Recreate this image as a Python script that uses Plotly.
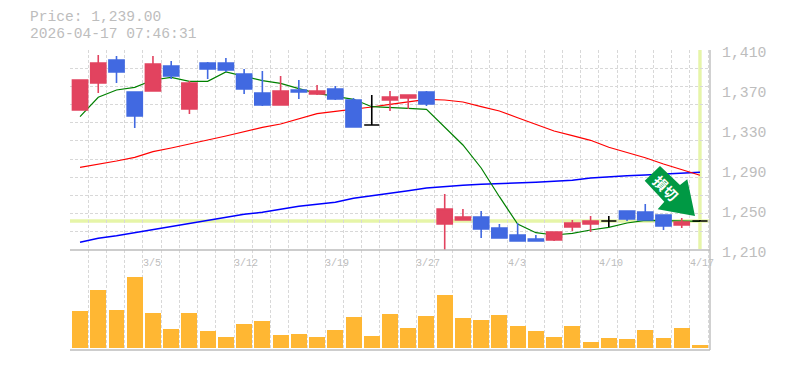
import plotly.graph_objects as go

W, H = 785, 370
L, R, T, M, B = 70, 710, 50, 250, 350

days = list(range(35))
opens = [1350,1377,1400,1368,1369,1394,1351,1397,1397,1386,1367,1355,1370,1366,1371,1360,1335,1360,1362,1368,
         1236,1240,1243,1232,1225,1221,1220,1233,1236,1239,1249,1248,1245,1235,1239]
highs = [1380,1405,1404,1368,1404,1399,1379,1398,1402,1391,1389,1384,1380,1375,1374,1362,1365,1369,1365,1369,
         1266,1251,1249,1236,1237,1225,1228,1240,1244,1244,1249,1256,1245,1242,1240]
lows = [1350,1367,1377,1332,1369,1381,1346,1381,1388,1366,1354,1355,1361,1365,1360,1333,1335,1349,1351,1354,
        1209,1240,1222,1222,1219,1219,1219,1229,1228,1233,1239,1240,1230,1232,1239]
closes = [1380,1397,1388,1344,1396,1384,1377,1391,1390,1371,1355,1369,1368,1369,1361,1333,1335,1363,1365,1356,
          1251,1243,1231,1222,1219,1219,1228,1237,1239,1239,1241,1240,1234,1238,1239]
ma_short = [1343.3,1362.7,1370,1372.7,1380,1382.7,1378.7,1378.7,1388,1384,1379.3,1376.7,1371.3,1366.7,1364,1360.7,
            1353.3,1352.7,1351.7,1350.7,1333.3,1315,1292,1263.3,1236,1227.3,1225,1226.7,1230,1232.7,1237,1239.7,
            1239.3,1238.7,1238.7]
ma_mid = [1292.7,1295.7,1299,1302.7,1308.3,1312,1315.7,1320,1324,1328.3,1332.7,1336,1341.3,1346.3,1348.7,1350.7,
          1353,1355.7,1358.3,1360.7,1360,1358,1353.3,1349,1342.3,1335.7,1329,1324.3,1319.7,1312.7,1307.3,1302.3,
          1296,1290,1284.7]
ma_long = [1217.7,1221.7,1224.3,1227.3,1230,1233,1236,1239.7,1242.7,1245.7,1247.7,1250.7,1253.7,1255.7,1257.7,
           1261.7,1264,1266.7,1269.3,1272,1273.7,1274.7,1275.7,1276.3,1276.7,1277.7,1278.7,1279.7,1282,1283.3,
           1284.3,1285,1286,1287,1287.7]
volumes = [37000,58000,38000,71000,35000,19000,35000,17000,11000,24000,27000,13000,14000,11000,18000,31000,12000,
           34000,20000,32000,53000,30000,28000,33000,22000,17000,11000,22000,6000,10000,9000,18000,10000,20000,3000]
price_ticks = [1410, 1370, 1330, 1290, 1250, 1210]
date_ticks = [(4, "3/5"), (9, "3/12"), (14, "3/19"), (19, "3/27"), (24, "4/3"), (29, "4/10"), (34, "4/17")]
last_price = 1239
header = ["Price: 1,239.00", "2026-04-17 07:46:31"]
signal_text = "損切"

GRAY = "#bdbdbd"
GRID = "#d8d8d8"
RED = "#e2435f"
BLUE = "#4169e1"
MONO = "Liberation Mono, monospace"


def px(x):
    return (x - L) / (R - L)


def py(y):
    return (B - y) / (B - T)


fig = go.Figure()
for name, color, keep in [
    ("up", RED, lambda o, c: c > o),
    ("down", BLUE, lambda o, c: c < o),
    ("flat", "#000000", lambda o, c: c == o),
]:
    idx = [i for i in days if keep(opens[i], closes[i])]
    fig.add_trace(go.Candlestick(
        x=idx,
        open=[opens[i] for i in idx],
        high=[highs[i] for i in idx],
        low=[lows[i] for i in idx],
        close=[closes[i] for i in idx],
        name=name, xaxis="x", yaxis="y3", whiskerwidth=0,
        increasing=dict(line=dict(color=color, width=1.6), fillcolor=color),
        decreasing=dict(line=dict(color=color, width=1.6), fillcolor=color),
        hoverinfo="skip",
    ))
for series, color, width in [(ma_long, "#0000ff", 1.4), (ma_mid, "#ff0000", 1.2), (ma_short, "#008000", 1.2)]:
    fig.add_trace(go.Scatter(x=days, y=series, mode="lines", line=dict(color=color, width=width),
                             xaxis="x", yaxis="y", hoverinfo="skip"))
fig.add_trace(go.Bar(x=days, y=volumes, width=0.875, marker=dict(color="#ffb733", line=dict(width=0)),
                     xaxis="x", yaxis="y2", hoverinfo="skip"))

x_range = [-0.55, 34.55]
grid = dict(showgrid=True, gridcolor=GRID, gridwidth=1, griddash="3px,2px", zeroline=False,
            showticklabels=False, ticks="", showline=False)

annotations = []
for i, text in enumerate(header):
    annotations.append(dict(x=px(29), y=py(17 + 16.6 * i), xref="paper", yref="paper", text=text, showarrow=False,
                            xanchor="left", yanchor="middle", height=13, borderpad=0,
                            font=dict(family=MONO, size=14.6, color=GRAY)))
for v in price_ticks:
    annotations.append(dict(x=px(720), y=v, xref="paper", yref="y", yshift=-3, text=f"{v:,}", showarrow=False,
                            xanchor="left", yanchor="middle", font=dict(family=MONO, size=14.8, color=GRAY)))
for i, text in date_ticks:
    annotations.append(dict(x=i, y=py(263), xref="x", yref="paper", xshift=-12, text=text, showarrow=False,
                            xanchor="left", yanchor="middle", font=dict(family=MONO, size=10, color=GRAY)))
annotations.append(dict(x=px(666), y=py(188), xref="paper", yref="paper", text=signal_text, showarrow=False,
                        textangle=45, xanchor="center", yanchor="middle",
                        font=dict(family="Noto Sans CJK JP", size=14, color="#ffffff", weight="bold")))

arrow_pts = [(660, 166), (680, 185), (687.3, 179.3), (695, 216), (657.7, 209.3), (664.3, 201.7), (644.7, 180.7)]
arrow_path = "M" + " L".join(f"{px(x):.5f},{py(y):.5f}" for x, y in arrow_pts) + " Z"

shapes = [
    dict(type="line", layer="below", xref="paper", yref="y", x0=0, x1=1, y0=last_price, y1=last_price,
         line=dict(color="#e6f5a8", width=3.4)),
    dict(type="line", layer="below", xref="x", yref="paper", x0=days[-1], x1=days[-1], y0=py(50), y1=py(249),
         line=dict(color="#e6f5a8", width=3.4)),
    dict(type="line", xref="paper", yref="paper", x0=1, x1=1, y0=py(T), y1=py(B), line=dict(color=GRAY, width=1.4)),
    dict(type="line", xref="paper", yref="paper", x0=0, x1=1, y0=py(M), y1=py(M), line=dict(color=GRAY, width=1.4)),
    dict(type="line", xref="paper", yref="paper", x0=0, x1=1, y0=py(B), y1=py(B), line=dict(color=GRAY, width=1.4)),
    dict(type="path", xref="paper", yref="paper", path=arrow_path, fillcolor="#009944", line=dict(width=0)),
]

fig.update_layout(
    width=W, height=H, autosize=False,
    margin=dict(l=L, r=W - R, t=T, b=H - B, pad=0),
    paper_bgcolor="#ffffff", plot_bgcolor="#ffffff",
    showlegend=False, bargap=0, boxgap=0.17, boxgroupgap=0,
    xaxis=dict(range=x_range, tick0=-0.55, dtick=1, anchor="y2", rangeslider=dict(visible=False), **grid),
    yaxis=dict(domain=[(B - M) / (B - T), 1], range=[1210, 1410], tick0=1210, dtick=200 / 11, **grid),
    yaxis2=dict(domain=[0, (B - M) / (B - T)], range=[-2000, 98000], showgrid=False, zeroline=False,
                showticklabels=False, ticks=""),
    yaxis3=dict(domain=[(B - M) / (B - T), 1], range=[1210, 1410], overlaying="y", visible=False),
    annotations=annotations, shapes=shapes,
)

fig.write_html("out.html", config=dict(displayModeBar=False),
               post_script="document.body.style.margin='0';document.body.style.overflow='hidden';")
